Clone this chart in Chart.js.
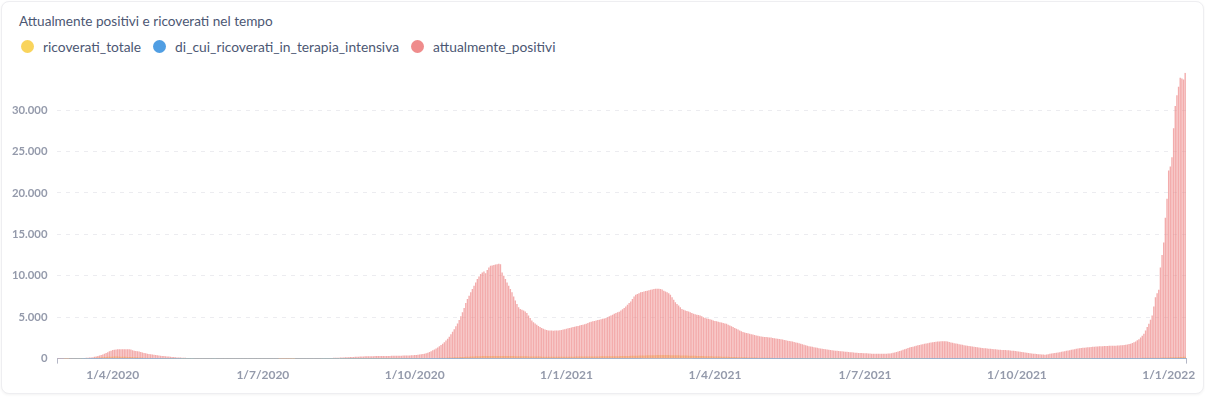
<!DOCTYPE html>
<html lang="it">
<head>
<meta charset="utf-8">
<title>Attualmente positivi e ricoverati nel tempo</title>
<script src="https://cdn.jsdelivr.net/npm/chart.js@4.4.1/dist/chart.umd.min.js"></script>
<style>
    html, body { margin: 0; padding: 0; background: #fff; }
    body { width: 1205px; height: 398px; overflow: hidden; font-family: Lato, "Noto Sans", sans-serif; position: relative; }
    .card { position: absolute; left: 1px; top: 1px; width: 1201px; height: 391px; border: 1px solid #eeeef1; border-radius: 8px; box-shadow: 0 1px 3px rgba(0, 0, 0, 0.05); background: #fff; }
    .title { position: absolute; left: 17px; top: 11px; font-size: 13.6px; color: #4c5773; }
    .legend { position: absolute; left: 19px; top: 36px; display: flex; align-items: center; font-size: 13.8px; color: #4c5773; }
    .legend .item { display: flex; align-items: center; margin-right: 12px; }
    .legend .dot { width: 13px; height: 13px; border-radius: 50%; margin-right: 9px; }
    .chart-box { position: absolute; left: 0; top: 54px; width: 1203px; height: 336px; }
</style>
</head>
<body>
<div class="card">
    <div class="title">Attualmente positivi e ricoverati nel tempo</div>
    <div class="legend" id="legend"></div>
    <div class="chart-box"><canvas id="trend-chart"></canvas></div>
</div>
<script>
    "use strict";

    // daily series, first day 28/2/2020
    var startDate = [2020, 2, 28];

    var seriesNames = ['ricoverati_totale', 'di_cui_ricoverati_in_terapia_intensiva', 'attualmente_positivi'];
    var seriesColors = ['#F9D45C', '#509EE3', '#EF8C8C'];

    var ricoveratiTotale = [
        0, 0,
        0, 0, 1, 1, 2, 3, 4, 5, 7, 10, 13, 17, 22, 28, 35, 42, 50, 60, 70, 80, 95, 110, 125, 140, 155, 170, 185, 200, 210, 220, 230,
        235, 240, 240, 240, 235, 230, 225, 220, 210, 200, 195, 190, 180, 170, 160, 150, 140, 130, 120, 115, 110, 100, 95, 90, 85, 80, 75, 70, 65, 60,
        56, 52, 48, 45, 42, 40, 38, 36, 34, 32, 30, 28, 26, 24, 22, 20, 19, 18, 17, 16, 15, 14, 13, 12, 12, 11, 10, 10, 9, 9, 8,
        8, 8, 8, 7, 7, 7, 7, 6, 6, 6, 6, 6, 5, 5, 5, 5, 5, 5, 4, 4, 4, 4, 4, 4, 4, 4, 3, 3, 3, 3,
        3, 3, 3, 3, 3, 3, 3, 3, 3, 3, 2, 2, 2, 2, 2, 2, 2, 2, 2, 2, 3, 3, 3, 3, 3, 3, 4, 4, 4, 4, 4,
        4, 4, 5, 5, 5, 5, 5, 6, 6, 6, 6, 7, 7, 7, 8, 8, 8, 9, 9, 10, 10, 11, 11, 12, 12, 13, 13, 14, 14, 15, 15,
        16, 16, 17, 17, 18, 18, 19, 19, 20, 20, 21, 21, 22, 22, 23, 23, 24, 24, 25, 25, 26, 27, 28, 29, 30, 31, 32, 33, 35, 37,
        39, 41, 43, 45, 48, 51, 54, 57, 60, 64, 68, 72, 76, 80, 85, 90, 95, 100, 106, 112, 118, 125, 132, 140, 148, 156, 165, 175, 185, 195, 205,
        215, 225, 235, 245, 255, 265, 272, 280, 288, 295, 300, 305, 310, 314, 318, 320, 322, 324, 325, 326, 326, 325, 324, 322, 320, 317, 314, 310, 306, 302,
        298, 294, 290, 286, 282, 278, 274, 270, 266, 262, 258, 254, 250, 246, 242, 240, 238, 236, 234, 232, 230, 228, 226, 224, 222, 220, 220, 220, 222, 224, 226,
        228, 230, 232, 234, 236, 238, 240, 242, 244, 246, 248, 250, 252, 254, 256, 258, 260, 262, 264, 266, 268, 270, 272, 274, 276, 278, 280, 282, 284, 286, 288,
        290, 295, 300, 305, 310, 315, 320, 326, 332, 338, 344, 350, 356, 362, 368, 374, 380, 386, 392, 398, 404, 410, 414, 418, 420, 422, 424, 425,
        425, 424, 422, 420, 416, 412, 408, 404, 400, 394, 388, 382, 376, 370, 364, 358, 352, 346, 340, 334, 328, 322, 316, 310, 304, 298, 292, 286, 280, 274, 268,
        262, 256, 250, 244, 238, 232, 226, 220, 214, 208, 202, 196, 190, 184, 178, 172, 166, 160, 155, 150, 145, 140, 135, 130, 125, 120, 116, 112, 108, 104,
        100, 97, 94, 91, 88, 85, 82, 79, 76, 73, 70, 68, 66, 64, 62, 60, 58, 56, 54, 52, 50, 48, 46, 44, 42, 40, 38, 36, 35, 34, 33,
        32, 31, 30, 29, 28, 27, 26, 25, 24, 23, 22, 21, 20, 20, 19, 19, 18, 18, 17, 17, 16, 16, 15, 15, 15, 14, 14, 14, 13, 13,
        13, 13, 13, 13, 13, 13, 13, 13, 13, 14, 14, 14, 15, 15, 16, 17, 18, 19, 20, 22, 24, 26, 28, 30, 32, 34, 36, 38, 40, 42, 44,
        46, 48, 50, 52, 54, 56, 58, 60, 62, 63, 64, 65, 66, 67, 68, 69, 70, 70, 70, 70, 70, 69, 68, 67, 66, 65, 64, 63, 62, 61, 60,
        59, 58, 57, 56, 55, 54, 53, 52, 51, 50, 49, 48, 47, 46, 45, 45, 44, 44, 43, 43, 42, 42, 41, 41, 40, 40, 40, 39, 39, 39,
        38, 38, 38, 37, 37, 37, 36, 36, 36, 35, 35, 35, 35, 34, 34, 34, 34, 34, 35, 35, 35, 36, 36, 37, 37, 38, 38, 39, 40, 41, 42,
        43, 44, 45, 46, 47, 48, 49, 50, 51, 52, 53, 54, 55, 56, 57, 58, 59, 60, 61, 62, 63, 64, 65, 66, 67, 68, 69, 70, 71, 72,
        73, 74, 75, 76, 77, 78, 79, 80, 81, 82, 83, 84, 85, 86, 87, 88, 89, 90, 92, 94, 96, 98, 100, 103, 106, 110, 115, 120, 125, 130, 136,
        142, 148, 155, 162, 170, 178, 186, 194, 202, 210, 218
    ];

    var terapiaIntensiva = [
        0, 0,
        0, 0, 0, 0, 0, 1, 1, 1, 2, 2, 3, 4, 5, 6, 7, 8, 10, 12, 14, 16, 18, 20, 22, 24, 26, 28, 30, 32, 34, 35, 36,
        37, 38, 38, 38, 37, 36, 35, 34, 33, 32, 31, 30, 29, 28, 27, 26, 25, 24, 23, 22, 21, 20, 19, 18, 17, 16, 15, 14, 13, 12,
        11, 11, 10, 10, 9, 9, 8, 8, 7, 7, 6, 6, 6, 5, 5, 5, 4, 4, 4, 4, 3, 3, 3, 3, 3, 2, 2, 2, 2, 2, 2,
        2, 2, 2, 2, 2, 2, 2, 1, 1, 1, 1, 1, 1, 1, 1, 1, 1, 1, 1, 1, 1, 1, 1, 1, 1, 1, 1, 1, 1, 1,
        1, 1, 1, 1, 1, 1, 1, 1, 1, 1, 0, 0, 0, 0, 0, 0, 0, 0, 0, 0, 1, 1, 1, 1, 1, 1, 1, 1, 1, 1, 1,
        1, 1, 1, 1, 1, 1, 1, 1, 1, 1, 1, 1, 1, 1, 2, 2, 2, 2, 2, 2, 2, 2, 2, 2, 2, 2, 2, 2, 2, 3, 3,
        3, 3, 3, 3, 3, 3, 3, 3, 3, 4, 4, 4, 4, 4, 4, 4, 4, 4, 4, 4, 5, 5, 5, 5, 5, 5, 5, 5, 5, 6,
        6, 6, 6, 7, 7, 7, 8, 8, 9, 9, 10, 10, 11, 11, 12, 13, 14, 15, 16, 17, 18, 19, 20, 21, 22, 23, 24, 25, 26, 27, 28,
        30, 32, 34, 36, 38, 40, 42, 44, 45, 46, 47, 48, 49, 50, 51, 52, 52, 53, 53, 54, 54, 54, 53, 53, 52, 52, 51, 50, 50, 49,
        48, 48, 47, 47, 46, 46, 45, 45, 44, 44, 43, 43, 42, 42, 41, 41, 40, 40, 39, 39, 38, 38, 37, 37, 36, 36, 36, 35, 35, 35, 35,
        35, 35, 35, 36, 36, 36, 36, 37, 37, 37, 37, 38, 38, 38, 38, 39, 39, 39, 39, 40, 40, 40, 40, 40, 41, 41, 41, 42, 42, 42, 43,
        43, 44, 45, 46, 47, 48, 49, 50, 51, 52, 53, 54, 55, 56, 57, 58, 59, 60, 61, 62, 63, 64, 65, 66, 67, 68, 69, 70,
        71, 72, 72, 72, 71, 70, 69, 68, 67, 66, 65, 64, 63, 62, 61, 60, 59, 58, 57, 56, 55, 54, 53, 52, 51, 50, 49, 48, 47, 46, 45,
        44, 43, 42, 41, 40, 39, 38, 37, 36, 35, 34, 33, 32, 31, 30, 29, 28, 27, 26, 25, 25, 24, 24, 23, 23, 22, 22, 21, 21, 20,
        20, 19, 19, 18, 18, 17, 17, 16, 16, 15, 15, 14, 14, 13, 13, 12, 12, 11, 11, 10, 10, 10, 9, 9, 9, 8, 8, 8, 7, 7, 7,
        7, 6, 6, 6, 6, 5, 5, 5, 5, 5, 4, 4, 4, 4, 4, 4, 3, 3, 3, 3, 3, 3, 3, 3, 3, 3, 3, 3, 3, 3,
        3, 3, 3, 3, 3, 3, 3, 3, 3, 3, 3, 3, 3, 3, 3, 3, 3, 3, 3, 3, 4, 4, 4, 4, 4, 4, 4, 4, 4, 4, 4,
        5, 5, 5, 5, 5, 6, 6, 6, 6, 6, 7, 7, 7, 7, 7, 8, 8, 8, 8, 8, 9, 9, 9, 9, 9, 9, 9, 9, 9, 9, 9,
        9, 9, 8, 8, 8, 8, 8, 8, 7, 7, 7, 7, 7, 7, 7, 6, 6, 6, 6, 6, 6, 6, 6, 6, 5, 5, 5, 5, 5, 5,
        5, 5, 5, 5, 5, 5, 5, 5, 5, 5, 4, 4, 4, 4, 4, 4, 4, 4, 4, 4, 4, 4, 4, 4, 4, 4, 4, 4, 4, 4, 4,
        4, 4, 4, 5, 5, 5, 5, 5, 5, 5, 6, 6, 6, 6, 6, 6, 6, 7, 7, 7, 7, 7, 7, 7, 8, 8, 8, 8, 8, 8,
        8, 8, 8, 9, 9, 9, 9, 9, 10, 10, 10, 10, 10, 11, 11, 11, 11, 11, 12, 12, 12, 12, 13, 13, 13, 14, 14, 14, 15, 15, 15,
        16, 16, 17, 17, 18, 18, 19, 19, 20, 20, 21
    ];

    var attualmentePositivi = [
        2, 4,
        5, 8, 10, 12, 15, 18, 22, 28, 34, 40, 48, 56, 65, 75, 85, 95, 105, 120, 140, 170, 210, 260, 310, 360, 420, 500, 590, 680, 780, 880, 960,
        1030, 1070, 1100, 1120, 1130, 1140, 1130, 1140, 1135, 1130, 1120, 1100, 1020, 960, 920, 900, 860, 800, 740, 690, 640, 600, 560, 530, 500, 470, 440, 410, 380, 350,
        320, 300, 280, 260, 240, 220, 200, 180, 160, 145, 130, 120, 110, 100, 92, 85, 78, 72, 66, 60, 56, 52, 48, 45, 42, 40, 38, 36, 34, 32, 30,
        60, 58, 57, 56, 55, 54, 53, 52, 51, 50, 50, 49, 48, 47, 46, 45, 45, 44, 43, 42, 42, 41, 40, 40, 39, 38, 38, 37, 36, 36,
        35, 34, 33, 32, 31, 30, 30, 29, 28, 28, 27, 27, 26, 26, 25, 25, 26, 27, 28, 29, 30, 31, 32, 33, 34, 35, 36, 38, 40, 42, 44,
        46, 48, 50, 52, 55, 58, 62, 66, 70, 75, 80, 86, 92, 100, 108, 116, 125, 135, 145, 155, 165, 175, 185, 195, 205, 215, 225, 235, 245, 255, 265,
        270, 275, 280, 285, 290, 295, 300, 305, 310, 312, 315, 318, 320, 322, 325, 328, 330, 333, 336, 340, 345, 350, 355, 360, 365, 370, 378, 386, 395, 405,
        420, 440, 460, 490, 520, 560, 600, 650, 720, 800, 900, 1000, 1100, 1220, 1350, 1500, 1650, 1800, 1980, 2180, 2400, 2650, 2950, 3250, 3550, 3900, 4250, 4650, 5100, 5600, 6100,
        6700, 7200, 7600, 8000, 8400, 8800, 9200, 9600, 9900, 10200, 10400, 10500, 10300, 10700, 11000, 11200, 11250, 11300, 11350, 11400, 11450, 11400, 10400, 10000, 9600, 9200, 8800, 8400, 8000, 7500,
        7000, 6600, 6200, 6000, 5900, 5800, 5700, 5500, 5200, 4900, 4600, 4400, 4250, 4100, 3950, 3800, 3700, 3600, 3500, 3450, 3400, 3400, 3380, 3370, 3380, 3390, 3400, 3420, 3450, 3500, 3550,
        3600, 3650, 3700, 3750, 3800, 3850, 3900, 3950, 4000, 4050, 4100, 4150, 4200, 4300, 4400, 4450, 4500, 4550, 4600, 4650, 4700, 4750, 4800, 4850, 4900, 5000, 5100, 5200, 5300, 5400, 5500,
        5600, 5650, 5800, 5950, 6100, 6300, 6500, 6700, 6900, 7200, 7500, 7700, 7800, 7900, 8000, 8050, 8100, 8150, 8200, 8250, 8300, 8350, 8400, 8420, 8430, 8420, 8400, 8350,
        8200, 8100, 8000, 7900, 7700, 7400, 7100, 6800, 6600, 6400, 6200, 6000, 5900, 5800, 5750, 5700, 5600, 5500, 5400, 5350, 5300, 5250, 5200, 5100, 5000, 4900, 4850, 4800, 4750, 4700, 4600,
        4550, 4500, 4450, 4400, 4350, 4300, 4250, 4200, 4100, 4000, 3900, 3800, 3700, 3600, 3500, 3400, 3300, 3200, 3150, 3100, 3050, 3000, 2950, 2900, 2850, 2800, 2750, 2700, 2680, 2650,
        2620, 2600, 2580, 2560, 2540, 2500, 2470, 2440, 2410, 2380, 2350, 2300, 2250, 2200, 2150, 2120, 2100, 2050, 2000, 1950, 1900, 1850, 1780, 1720, 1660, 1600, 1550, 1500, 1460, 1420, 1380,
        1340, 1300, 1260, 1230, 1200, 1170, 1140, 1110, 1080, 1050, 1020, 990, 960, 940, 920, 900, 880, 860, 840, 820, 800, 780, 760, 740, 720, 700, 690, 680, 670, 660,
        650, 640, 620, 610, 600, 595, 590, 585, 580, 580, 580, 585, 590, 600, 610, 630, 660, 700, 750, 800, 860, 920, 990, 1060, 1130, 1200, 1270, 1330, 1390, 1440, 1500,
        1550, 1600, 1650, 1700, 1740, 1780, 1820, 1860, 1900, 1930, 1960, 1990, 2020, 2050, 2070, 2090, 2100, 2100, 2080, 2050, 2000, 1950, 1900, 1860, 1820, 1780, 1740, 1700, 1660, 1620, 1590,
        1560, 1530, 1500, 1470, 1440, 1410, 1380, 1350, 1320, 1290, 1260, 1240, 1220, 1200, 1180, 1160, 1140, 1120, 1100, 1080, 1060, 1050, 1040, 1030, 1020, 1000, 980, 960, 940, 920,
        900, 870, 840, 810, 780, 750, 720, 690, 660, 630, 600, 580, 560, 540, 520, 500, 480, 470, 480, 520, 580, 620, 650, 680, 710, 740, 780, 820, 860, 900, 940,
        980, 1020, 1060, 1100, 1140, 1180, 1210, 1240, 1270, 1300, 1320, 1340, 1360, 1380, 1400, 1420, 1440, 1460, 1470, 1480, 1490, 1500, 1510, 1520, 1530, 1540, 1550, 1550, 1560, 1560,
        1570, 1580, 1600, 1620, 1650, 1680, 1710, 1750, 1800, 1880, 1960, 2060, 2200, 2350, 2550, 2750, 3000, 3400, 3800, 4200, 4700, 5200, 6300, 7400, 7900, 8300, 11000, 12500, 14000, 17000, 19300,
        22700, 23200, 24300, 27800, 30500, 31800, 32800, 33900, 33800, 33700, 34500
    ];

    // quarter ticks shown on the x axis, y ticks
    var quarterMonths = [1, 4, 7, 10];
    var yTicks = [0, 5000, 10000, 15000, 20000, 25000, 30000];

    function dayLabels(count) {
        var labels = [];
        var t = Date.UTC(startDate[0], startDate[1] - 1, startDate[2]);
        for (var i = 0; i < count; i++) {
            var d = new Date(t + i * 86400000);
            labels.push(d.getUTCDate() + '/' + (d.getUTCMonth() + 1) + '/' + d.getUTCFullYear());
        }
        return labels;
    }

    function formatNumber(v) {
        return String(v).replace(/\B(?=(\d{3})+(?!\d))/g, '.');
    }

    var labels = dayLabels(attualmentePositivi.length);
    var allSeries = [ricoveratiTotale, terapiaIntensiva, attualmentePositivi];
    // pink drawn on top (lowest order is painted last)
    var drawOrder = [2, 1, 0];
    var barAlpha = [1, 1, 0.72];

    // html legend
    var legendEl = document.getElementById('legend');
    seriesNames.forEach(function (name, i) {
        var item = document.createElement('div');
        item.className = 'item';
        item.innerHTML = '<span class="dot" style="background:' + seriesColors[i] + '"></span><span>' + name + '</span>';
        legendEl.appendChild(item);
    });

    function hexToRGB(hex, alpha) {
        var r = parseInt(hex.slice(1, 3), 16), g = parseInt(hex.slice(3, 5), 16), b = parseInt(hex.slice(5, 7), 16);
        return "rgba(" + r + ", " + g + ", " + b + ", " + alpha + ")";
    }

    Chart.defaults.font.family = 'Lato, "Noto Sans", sans-serif';
    Chart.defaults.color = '#949aab';

    var axisColor = '#b4b7c6';
    var ctx = document.getElementById('trend-chart').getContext('2d');
    var chart = new Chart(ctx, {
        type: 'bar',
        data: {
            labels: labels,
            datasets: allSeries.map(function (values, i) {
                return {
                    label: seriesNames[i],
                    data: values,
                    order: drawOrder[i],
                    backgroundColor: hexToRGB(seriesColors[i], barAlpha[i]),
                    borderWidth: 0,
                    barPercentage: 1,
                    categoryPercentage: 0.85
                };
            })
        },
        options: {
            responsive: true,
            maintainAspectRatio: false,
            animation: false,
            layout: {padding: {left: 0, right: 19, top: 4, bottom: 6}},
            plugins: {
                legend: {display: false},
                tooltip: {enabled: false}
            },
            scales: {
                x: {
                    stacked: true,
                    grid: {
                        drawOnChartArea: false,
                        drawTicks: true,
                        tickLength: 5,
                        color: function (c) {
                            return (c.index === 0 || c.type === 'scale') ? axisColor : 'rgba(0,0,0,0)';
                        }
                    },
                    border: {display: true, color: axisColor},
                    ticks: {
                        autoSkip: false,
                        maxRotation: 0,
                        minRotation: 0,
                        padding: 4,
                        color: '#949aab',
                        font: {size: 12, weight: 'bold'},
                        callback: function (value) {
                            var parts = this.getLabelForValue(value).split('/');
                            if (parts[0] === '1' && quarterMonths.indexOf(Number(parts[1])) !== -1) {
                                return parts.join('/');
                            }
                            return '';
                        }
                    }
                },
                y: {
                    stacked: false,
                    min: 0,
                    max: Math.max.apply(null, attualmentePositivi),
                    afterBuildTicks: function (scale) {
                        scale.ticks = yTicks.map(function (v) {
                            return {value: v};
                        });
                    },
                    border: {display: false, dash: [4, 5]},
                    grid: {
                        drawTicks: false,
                        color: '#ececf0'
                    },
                    ticks: {
                        padding: 10,
                        color: '#949aab',
                        font: {size: 11.3, weight: 'bold'},
                        callback: function (value) {
                            return formatNumber(value);
                        }
                    }
                }
            }
        }
    });
</script>
</body>
</html>
